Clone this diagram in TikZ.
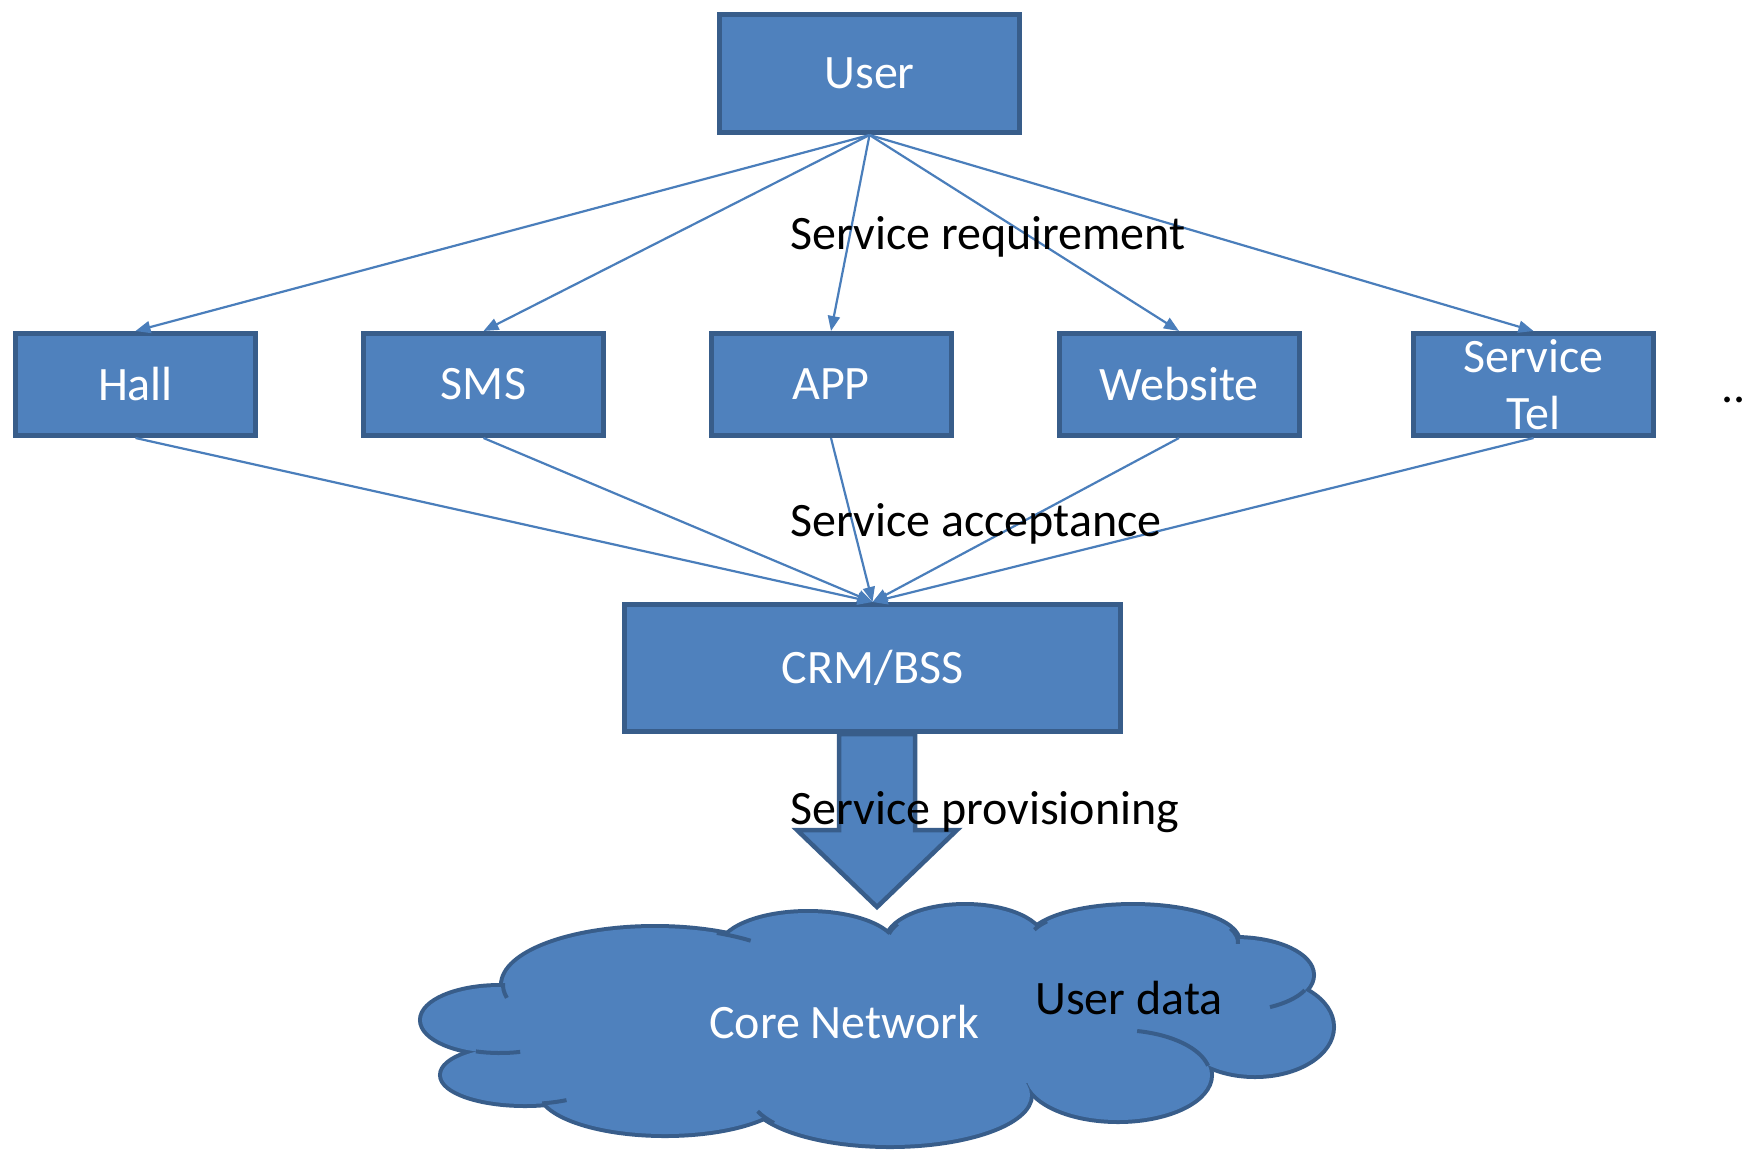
\documentclass[tikz,border=0pt]{standalone}
\usepackage{fontspec}
\setmainfont{Carlito}
\usetikzlibrary{arrows.meta}
\definecolor{boxfill}{HTML}{4F81BD}
\definecolor{boxline}{HTML}{385D8A}
\definecolor{connblue}{HTML}{4A7EBB}
\begin{document}
\begin{tikzpicture}[x=1pt,y=-1pt,
  box/.style={draw=boxline,fill=boxfill,line width=5pt,text=white,
    font=\fontsize{48}{57}\selectfont,minimum width=240pt,minimum height=102pt,
    inner sep=0pt,align=center},
  link/.style={draw=connblue,line width=2.2pt,-{Triangle[length=15pt,width=12pt]}},
  lbl/.style={font=\fontsize{48}{57}\selectfont,inner sep=0pt,anchor=base west},
  tail/.style={draw=boxline,line width=4pt}]
\useasboundingbox[fill=white] (0,0) rectangle (1742,1149);

% cloud: lobes drawn, then filled to leave only the outer outline
\def\lobes{500/1020/78pt/33pt,525/1075/83pt/29pt,665/1090/125pt/44pt,
  890/1095/140pt/50pt,1118/1075/92pt/45pt,1255/1027/77pt/48pt,1235/975/77pt/36pt,
  1133/942/105pt/36pt,965/942/78pt/36pt,808/950/88pt/37pt,655/985/152pt/57pt}
\foreach \cx/\cy/\rx/\ry in \lobes
  \draw[boxline,line width=8pt] (\cx,\cy) ellipse [x radius=\rx, y radius=\ry];
\foreach \cx/\cy/\rx/\ry in \lobes
  \fill[boxfill] (\cx,\cy) ellipse [x radius=\rx, y radius=\ry];
\fill[boxfill] (500,1020) -- (525,1075) -- (665,1090) -- (890,1095) -- (1118,1075)
  -- (1255,1027) -- (1235,975) -- (1133,942) -- (965,942) -- (808,950) -- (655,985) -- cycle;
% inner tails of the cloud
\foreach \cx/\cy/\rx/\ry/\a/\b in {
  655/985/152pt/57pt/178/193,
  655/985/152pt/57pt/66/51,
  965/942/78pt/36pt/150/167,
  1133/942/105pt/36pt/145/160,
  1133/942/105pt/36pt/22/-3,
  1235/975/77pt/36pt/-25/-63,
  1118/1075/92pt/45pt/12/78,
  890/1095/140pt/50pt/214/199,
  525/1075/83pt/29pt/-78/-60,
  500/1020/78pt/33pt/-108/-75}
  \draw[tail] (\cx,\cy) ++(\a:{\rx} and {\ry}) arc[start angle=\a,end angle=\b,x radius=\rx,y radius=\ry];
\node[lbl,text=white] (core) at (709,1038) {Core Network};
\node[lbl] (udata) at (1035,1014) {User data};

% big arrow
\draw[boxline,fill=boxfill,line width=4.5pt,line join=miter]
  (839,734) -- (915,734) -- (915,830) -- (957,830) -- (877,907) -- (797,830) -- (839,830) -- cycle;

% boxes
\node[box,minimum width=300pt,minimum height=118pt] (user) at (869.5,73.5) {User};
\node[box] (hall) at (135.5,384.5) {Hall};
\node[box] (sms) at (483.5,384.5) {SMS};
\node[box] (app) at (831,384.5) {APP};
\node[box] (web) at (1179,384.5) {Website};
\node[box] (tel) at (1533.5,384.5) {Service\\Tel};
\node[box,minimum width=496pt,minimum height=127pt] (crm) at (872.5,668) {CRM/BSS};
\node[lbl] (dots) at (1721,402) {..};

% connectors
\foreach \b in {hall,sms,app,web,tel} {
  \draw[link] (user.south) -- (\b.north);
  \draw[link] (\b.south) -- (crm.north);
}

\node[lbl] (req) at (790,249) {Service requirement};
\node[lbl] (acc) at (790,536) {Service acceptance};
\node[lbl] (prov) at (790,824) {Service provisioning};
\end{tikzpicture}
\end{document}
